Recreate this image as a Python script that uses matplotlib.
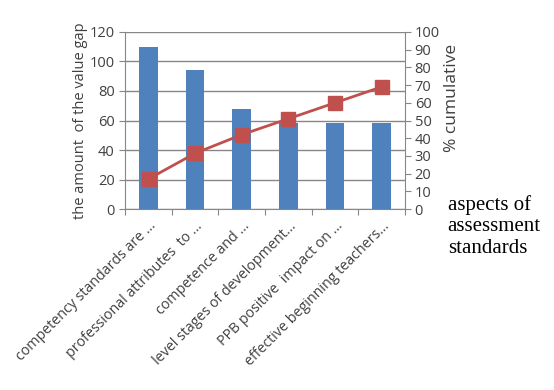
import matplotlib.pyplot as plt

categories = [
    "competency standards are \u2026",
    "professional attributes  to \u2026",
    "competence and \u2026",
    "level stages of development\u2026",
    "PPB positive  impact on \u2026",
    "effective beginning teachers\u2026",
]
value_gap = [110, 94, 68, 58, 58, 58]
cumulative_pct = [17, 31.5, 42, 51, 60, 69]
left_ticks = [0, 20, 40, 60, 80, 100, 120]
right_ticks = [0, 10, 20, 30, 40, 50, 60, 70, 80, 90, 100]

BAR_COLOR = "#4F81BD"
LINE_COLOR = "#C0504D"
TEXT_COLOR = "#404040"
GRID_COLOR = "#878787"

plt.rcParams["font.family"] = ["Open Sans", "DejaVu Sans"]

fig = plt.figure(figsize=(5.54, 3.9), dpi=100)
ax = fig.add_axes([0.226, 0.464, 0.505, 0.454])
x = list(range(len(categories)))

ax.bar(x, value_gap, width=0.4, color=BAR_COLOR, zorder=2)
ax.set_ylim(0, 120)
ax.set_xlim(-0.5, len(categories) - 0.5)
ax.set_yticks(left_ticks)
ax.yaxis.grid(True, color=GRID_COLOR, linewidth=1)
ax.set_axisbelow(True)
ax.tick_params(axis="y", labelsize=10.5, colors=TEXT_COLOR, length=4, direction="out")
ax.set_xticks([i + 0.5 for i in x[:-1]] + [-0.5, len(categories) - 0.5], minor=False)
ax.set_xticklabels([])
ax.set_xticks(x, minor=True)
ax.set_xticklabels(categories, minor=True, rotation=45, ha="right",
                   rotation_mode="anchor", fontsize=10.3, color=TEXT_COLOR)
ax.tick_params(axis="x", which="minor", length=0, pad=7)
ax.tick_params(axis="x", which="major", length=4, color=GRID_COLOR)
for side in ["top", "right"]:
    ax.spines[side].set_visible(False)
for side in ["left", "bottom"]:
    ax.spines[side].set_color(GRID_COLOR)
ax.tick_params(axis="y", color=GRID_COLOR)
ax.set_ylabel("the amount  of the value gap", fontsize=10.5, color=TEXT_COLOR, labelpad=1)

ax2 = ax.twinx()
ax2.plot(x, cumulative_pct, color=LINE_COLOR, linewidth=2, marker="s",
         markersize=10, zorder=3)
ax2.set_ylim(0, 100)
ax2.set_yticks(right_ticks)
ax2.tick_params(axis="y", labelsize=10.5, colors=TEXT_COLOR, length=4, color=GRID_COLOR, pad=3)
for side in ["top", "left", "bottom"]:
    ax2.spines[side].set_visible(False)
ax2.spines["right"].set_color(GRID_COLOR)
ax2.set_ylabel("% cumulative", fontsize=12.5, color=TEXT_COLOR, labelpad=3)
ax2.yaxis.label.set_y(0.63)

fig.text(0.808, 0.338, "aspects of\nassessment\nstandards", family="Liberation Serif",
         fontsize=15, color="black", va="bottom", ha="left", linespacing=1.2)

fig.savefig("out.png", dpi=100)
